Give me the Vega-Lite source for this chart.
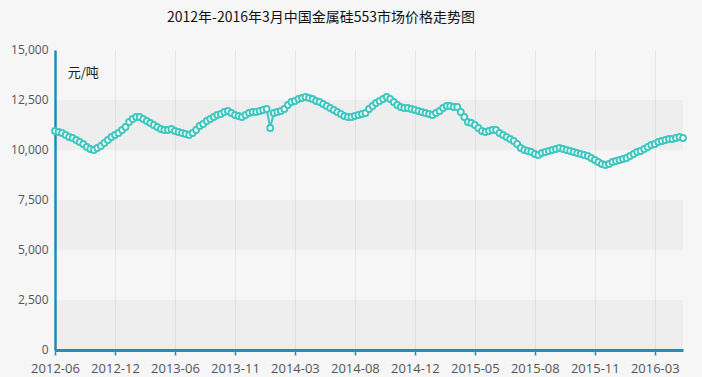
{
  "$schema": "https://vega.github.io/schema/vega-lite/v6.json",
  "width": 628,
  "height": 300,
  "autosize": {"type": "none"},
  "padding": {"left": 55, "top": 50, "right": 19, "bottom": 27},
  "background": "#f6f6f6",
  "title": {
    "text": "2012年-2016年3月中国金属硅553市场价格走势图",
    "font": "Noto Sans CJK SC",
    "fontSize": 14,
    "fontWeight": "normal",
    "color": "#111111",
    "offset": 18,
    "dx": -48
  },
  "config": {
    "view": {"stroke": null},
    "axis": {"labelFont": "Open Sans", "labelFontSize": 12, "labelColor": "#555555"}
  },
  "datasets": {
    "bands": [
      {"lo": 0, "hi": 2500},
      {"lo": 5000, "hi": 7500},
      {"lo": 10000, "hi": 12500}
    ],
    "prices": [
      {"n":0,"price":10950},{"n":1,"price":10900},{"n":2,"price":10850},{"n":3,"price":10750},{"n":4,"price":10650},
      {"n":5,"price":10600},{"n":6,"price":10500},{"n":7,"price":10400},{"n":8,"price":10300},{"n":9,"price":10150},
      {"n":10,"price":10050},{"n":11,"price":10000},{"n":12,"price":10100},{"n":13,"price":10200},{"n":14,"price":10350},
      {"n":15,"price":10500},{"n":16,"price":10650},{"n":17,"price":10750},{"n":18,"price":10850},{"n":19,"price":11000},
      {"n":20,"price":11150},{"n":21,"price":11400},{"n":22,"price":11550},{"n":23,"price":11650},{"n":24,"price":11650},
      {"n":25,"price":11550},{"n":26,"price":11450},{"n":27,"price":11350},{"n":28,"price":11250},{"n":29,"price":11150},
      {"n":30,"price":11050},{"n":31,"price":11000},{"n":32,"price":11000},{"n":33,"price":11050},{"n":34,"price":10950},
      {"n":35,"price":10900},{"n":36,"price":10850},{"n":37,"price":10800},{"n":38,"price":10750},{"n":39,"price":10850},
      {"n":40,"price":11000},{"n":41,"price":11200},{"n":42,"price":11300},{"n":43,"price":11450},{"n":44,"price":11550},
      {"n":45,"price":11650},{"n":46,"price":11750},{"n":47,"price":11800},{"n":48,"price":11900},{"n":49,"price":11950},
      {"n":50,"price":11850},{"n":51,"price":11750},{"n":52,"price":11700},{"n":53,"price":11650},{"n":54,"price":11750},
      {"n":55,"price":11850},{"n":56,"price":11900},{"n":57,"price":11900},{"n":58,"price":11950},{"n":59,"price":12000},
      {"n":60,"price":12050},{"n":61,"price":11100},{"n":62,"price":11850},{"n":63,"price":11900},{"n":64,"price":11950},
      {"n":65,"price":12050},{"n":66,"price":12250},{"n":67,"price":12400},{"n":68,"price":12450},{"n":69,"price":12550},
      {"n":70,"price":12600},{"n":71,"price":12650},{"n":72,"price":12600},{"n":73,"price":12550},{"n":74,"price":12450},
      {"n":75,"price":12400},{"n":76,"price":12300},{"n":77,"price":12200},{"n":78,"price":12100},{"n":79,"price":12000},
      {"n":80,"price":11900},{"n":81,"price":11800},{"n":82,"price":11700},{"n":83,"price":11650},{"n":84,"price":11650},
      {"n":85,"price":11700},{"n":86,"price":11750},{"n":87,"price":11800},{"n":88,"price":11850},{"n":89,"price":12050},
      {"n":90,"price":12200},{"n":91,"price":12350},{"n":92,"price":12450},{"n":93,"price":12550},{"n":94,"price":12650},
      {"n":95,"price":12550},{"n":96,"price":12400},{"n":97,"price":12250},{"n":98,"price":12150},{"n":99,"price":12100},
      {"n":100,"price":12100},{"n":101,"price":12050},{"n":102,"price":12000},{"n":103,"price":11950},{"n":104,"price":11900},
      {"n":105,"price":11850},{"n":106,"price":11800},{"n":107,"price":11750},{"n":108,"price":11850},{"n":109,"price":11950},
      {"n":110,"price":12100},{"n":111,"price":12200},{"n":112,"price":12200},{"n":113,"price":12150},{"n":114,"price":12150},
      {"n":115,"price":11900},{"n":116,"price":11650},{"n":117,"price":11400},{"n":118,"price":11350},{"n":119,"price":11250},
      {"n":120,"price":11100},{"n":121,"price":10950},{"n":122,"price":10900},{"n":123,"price":10950},{"n":124,"price":11000},
      {"n":125,"price":11000},{"n":126,"price":10850},{"n":127,"price":10750},{"n":128,"price":10650},{"n":129,"price":10550},
      {"n":130,"price":10450},{"n":131,"price":10300},{"n":132,"price":10100},{"n":133,"price":10000},{"n":134,"price":9950},
      {"n":135,"price":9900},{"n":136,"price":9800},{"n":137,"price":9750},{"n":138,"price":9850},{"n":139,"price":9900},
      {"n":140,"price":9950},{"n":141,"price":10000},{"n":142,"price":10050},{"n":143,"price":10100},{"n":144,"price":10050},
      {"n":145,"price":10000},{"n":146,"price":9950},{"n":147,"price":9900},{"n":148,"price":9850},{"n":149,"price":9800},
      {"n":150,"price":9750},{"n":151,"price":9700},{"n":152,"price":9600},{"n":153,"price":9500},{"n":154,"price":9400},
      {"n":155,"price":9300},{"n":156,"price":9250},{"n":157,"price":9300},{"n":158,"price":9400},{"n":159,"price":9450},
      {"n":160,"price":9500},{"n":161,"price":9550},{"n":162,"price":9600},{"n":163,"price":9700},{"n":164,"price":9800},
      {"n":165,"price":9900},{"n":166,"price":9950},{"n":167,"price":10050},{"n":168,"price":10150},{"n":169,"price":10250},
      {"n":170,"price":10300},{"n":171,"price":10400},{"n":172,"price":10450},{"n":173,"price":10500},{"n":174,"price":10550},
      {"n":175,"price":10550},{"n":176,"price":10600},{"n":177,"price":10650},{"n":178,"price":10600}
    ]
  },
  "layer": [
    {
      "data": {"name": "bands"},
      "mark": {"type": "rect", "color": "#000000", "opacity": 0.03},
      "encoding": {
        "y": {
          "field": "lo", "type": "quantitative",
          "scale": {"domain": [0, 15000], "nice": false},
          "axis": {
            "title": null,
            "values": [0, 2500, 5000, 7500, 10000, 12500, 15000],
            "labelExpr": "format(datum.value, ',d')",
            "domainColor": "#1f8cc0",
            "domainWidth": 2.5,
            "ticks": false,
            "labelPadding": 7,
            "labelOffset": -1,
            "grid": false
          }
        },
        "y2": {"field": "hi"}
      }
    },
    {
      "data": {"name": "prices"},
      "mark": {"type": "line", "color": "#40c8c0", "strokeWidth": 2},
      "encoding": {
        "x": {
          "field": "n", "type": "quantitative",
          "scale": {"domain": [0, 178], "nice": false, "zero": false},
          "axis": {
            "title": null,
            "values": [0, 17, 34, 51, 68, 85, 102, 119, 136, 153, 170],
            "labelExpr": "['2012-06','2012-12','2013-06','2013-11','2014-03','2014-08','2014-12','2015-05','2015-08','2015-11','2016-03'][round(datum.value/17)]",
            "domainColor": "#2390b8",
            "domainWidth": 3,
            "tickColor": "#2390b8",
            "tickWidth": 1.5,
            "tickSize": 5,
            "labelPadding": 7,
            "labelFlush": false,
            "labelFontSize": 13,
            "grid": true,
            "gridColor": "#e6e6e6",
            "gridWidth": 1
          }
        },
        "y": {
          "field": "price", "type": "quantitative",
          "scale": {"domain": [0, 15000], "nice": false},
          "axis": {
            "title": null,
            "values": [0, 2500, 5000, 7500, 10000, 12500, 15000],
            "labelExpr": "format(datum.value, ',d')",
            "domainColor": "#1f8cc0",
            "domainWidth": 2.5,
            "ticks": false,
            "labelPadding": 7,
            "labelOffset": -1,
            "grid": false
          }
        }
      }
    },
    {
      "data": {"name": "prices"},
      "mark": {"type": "point", "filled": false, "fill": "#ffffff", "fillOpacity": 1, "stroke": "#40c8c0", "strokeWidth": 2, "size": 34, "opacity": 1},
      "encoding": {
        "x": {"field": "n", "type": "quantitative", "title": null},
        "y": {"field": "price", "type": "quantitative", "title": null}
      }
    },
    {
      "data": {"values": [{"unit": "元/吨"}]},
      "mark": {"type": "text", "align": "left", "baseline": "middle", "font": "Noto Sans CJK SC", "fontSize": 13, "color": "#222222"},
      "encoding": {
        "text": {"field": "unit"},
        "x": {"datum": 3.6, "type": "quantitative"},
        "y": {"datum": 13850, "type": "quantitative"}
      }
    }
  ]
}
